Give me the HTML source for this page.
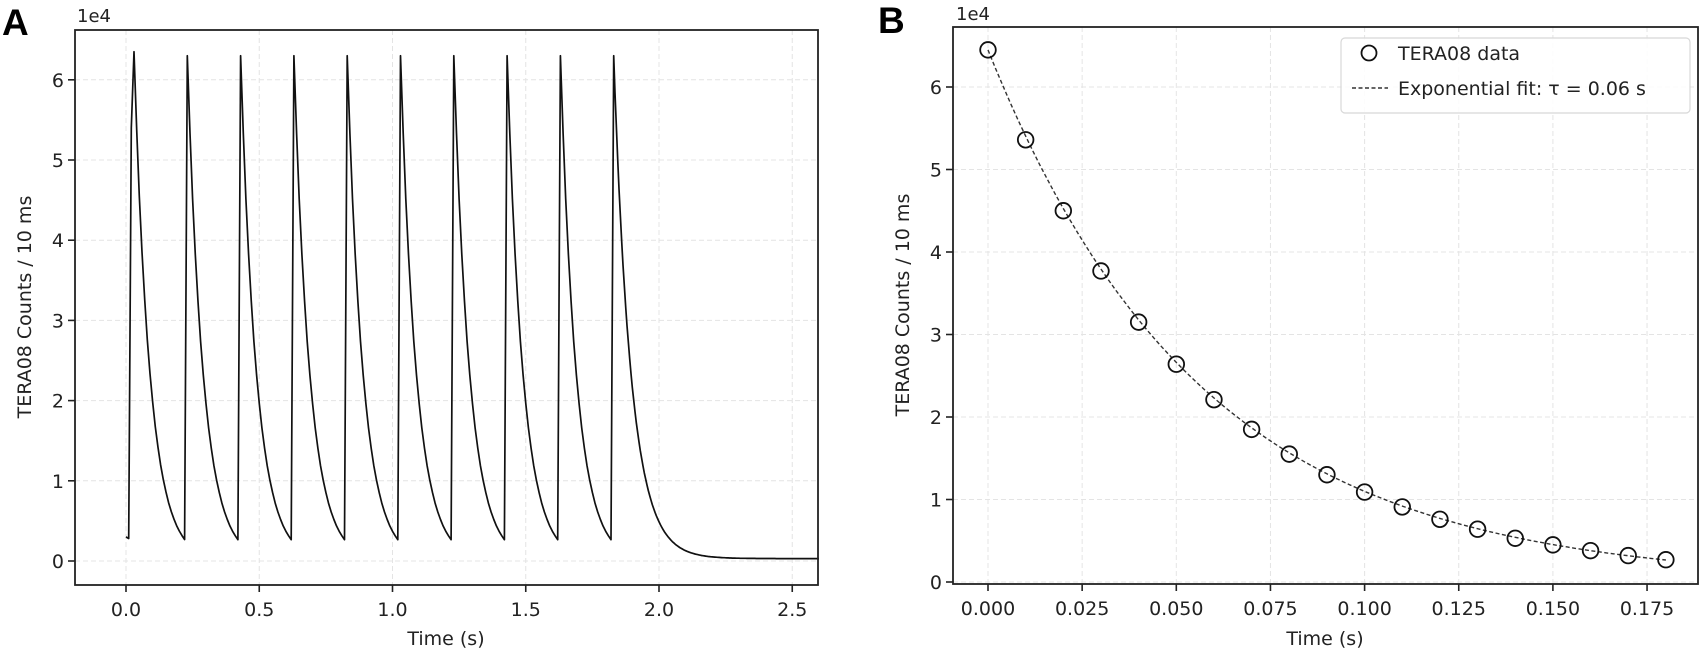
<!DOCTYPE html>
<html><head><meta charset="utf-8"><style>
html,body{margin:0;padding:0;background:#fff;}
svg{display:block;font-family:"DejaVu Sans","Liberation Sans",sans-serif;}
</style></head><body>
<svg id="s" width="1706" height="652" viewBox="0 0 1706 652" xmlns="http://www.w3.org/2000/svg">
<g id="g"></g>
</svg>
<script>
var NS="http://www.w3.org/2000/svg",g=document.getElementById('g');
function el(n,a,t){var e=document.createElementNS(NS,n);for(var k in a)e.setAttribute(k,a[k]);if(t!==undefined)e.textContent=t;g.appendChild(e);return e;}
function fmt(v,d){return v.toFixed(d);}
var A={l:75,t:30,r:818,b:585,X:function(t){return 126+266.5*t;},Y:function(v){return 561-v*0.00802;}};
var B={l:953,t:27,r:1698,b:584,X:function(t){return 988+3766*t;},Y:function(v){return 582-v*0.00825;}};
function axes(P,xt,xd,yt){
  xt.forEach(function(t){var x=P.X(t);
    el('line',{x1:x,y1:P.t,x2:x,y2:P.b,stroke:'#e4e4e4','stroke-width':1,'stroke-dasharray':'5,3'});
    el('line',{x1:x,y1:P.b,x2:x,y2:P.b+7,stroke:'#222','stroke-width':1.6});
    el('text',{x:x,y:P.b+31,'text-anchor':'middle','font-size':19,fill:'#222'},fmt(t,xd));
  });
  yt.forEach(function(v){var y=P.Y(v*1e4);
    el('line',{x1:P.l,y1:y,x2:P.r,y2:y,stroke:'#e4e4e4','stroke-width':1,'stroke-dasharray':'5,3'});
    el('line',{x1:P.l-7,y1:y,x2:P.l,y2:y,stroke:'#222','stroke-width':1.6});
    el('text',{x:P.l-11,y:y+7,'text-anchor':'end','font-size':19,fill:'#222'},String(v));
  });
}
axes(A,[0,0.5,1,1.5,2,2.5],1,[0,1,2,3,4,5,6]);
axes(B,[0,0.025,0.05,0.075,0.1,0.125,0.15,0.175],3,[0,1,2,3,4,5,6]);
var pts=[[0,3000],[0.01,2800]];
var peaks=[63500,63000,63000,63000,63000,63000,63000,63000,63000,63000];
for(var k=0;k<10;k++){
  var tp=0.03+0.2*k;
  if(k==0)pts.push([0.02,54000]);
  pts.push([tp,peaks[k]]);
  var last=(k==9);
  if(!last){for(var i=1;i<=19;i++){pts.push([tp+i*0.01,peaks[k]*Math.exp(-(i*0.01)/0.06)]);}}
  else{for(var t2=tp+0.005;t2<=2.6;t2+=0.005){pts.push([t2,300+(peaks[k]-300)*Math.exp(-(t2-tp)/0.065)]);}}
}
var d=pts.map(function(p,i){return (i?'L':'M')+A.X(p[0]).toFixed(1)+' '+A.Y(p[1]).toFixed(1);}).join('');
el('path',{d:d,fill:'none',stroke:'#111','stroke-width':1.7,'stroke-linejoin':'round'});
var vals=[64500,53600,45000,37700,31500,26400,22100,18500,15500,13000,10900,9100,7600,6400,5300,4500,3800,3200,2700];
var fd='';for(var t=0;t<=0.1801;t+=0.002){var v=64500*Math.exp(-t/0.0565);fd+=(fd?'L':'M')+B.X(t).toFixed(1)+' '+B.Y(v).toFixed(1);}
el('path',{d:fd,fill:'none',stroke:'#333','stroke-width':1.4,'stroke-dasharray':'4,2.5'});
vals.forEach(function(v,i){el('circle',{cx:B.X(i*0.01),cy:B.Y(v),r:7.8,fill:'none',stroke:'#111','stroke-width':1.8});});
[A,B].forEach(function(P){el('rect',{x:P.l,y:P.t,width:P.r-P.l,height:P.b-P.t,fill:'none',stroke:'#222','stroke-width':1.8});});
el('rect',{x:1341,y:38,width:349,height:75,rx:4,fill:'#fff','fill-opacity':0.85,stroke:'#d8d8d8','stroke-width':1.2});
el('circle',{cx:1369,cy:53,r:7.5,fill:'none',stroke:'#111','stroke-width':1.8});
el('line',{x1:1352,y1:88,x2:1388,y2:88,stroke:'#333','stroke-width':1.4,'stroke-dasharray':'4,2.5'});
el('text',{x:1398,y:60,'font-size':19,fill:'#222'},'TERA08 data');
el('text',{x:1398,y:95,'font-size':19,fill:'#222'},'Exponential fit: τ = 0.06 s');
el('text',{x:77,y:22,'font-size':18,fill:'#222'},'1e4');
el('text',{x:956,y:20,'font-size':18,fill:'#222'},'1e4');
el('text',{x:446,y:645,'text-anchor':'middle','font-size':19,fill:'#222'},'Time (s)');
el('text',{x:1325,y:645,'text-anchor':'middle','font-size':19,fill:'#222'},'Time (s)');
el('text',{x:0,y:0,'text-anchor':'middle','font-size':19,fill:'#222',transform:'translate(31,307) rotate(-90)'},'TERA08 Counts / 10 ms');
el('text',{x:0,y:0,'text-anchor':'middle','font-size':19,fill:'#222',transform:'translate(909,305) rotate(-90)'},'TERA08 Counts / 10 ms');
el('text',{x:2,y:35,'font-size':37,'font-weight':'bold',fill:'#000','font-family':'Liberation Sans, sans-serif'},'A');
el('text',{x:878,y:33,'font-size':37,'font-weight':'bold',fill:'#000','font-family':'Liberation Sans, sans-serif'},'B');
</script>
</body></html>
